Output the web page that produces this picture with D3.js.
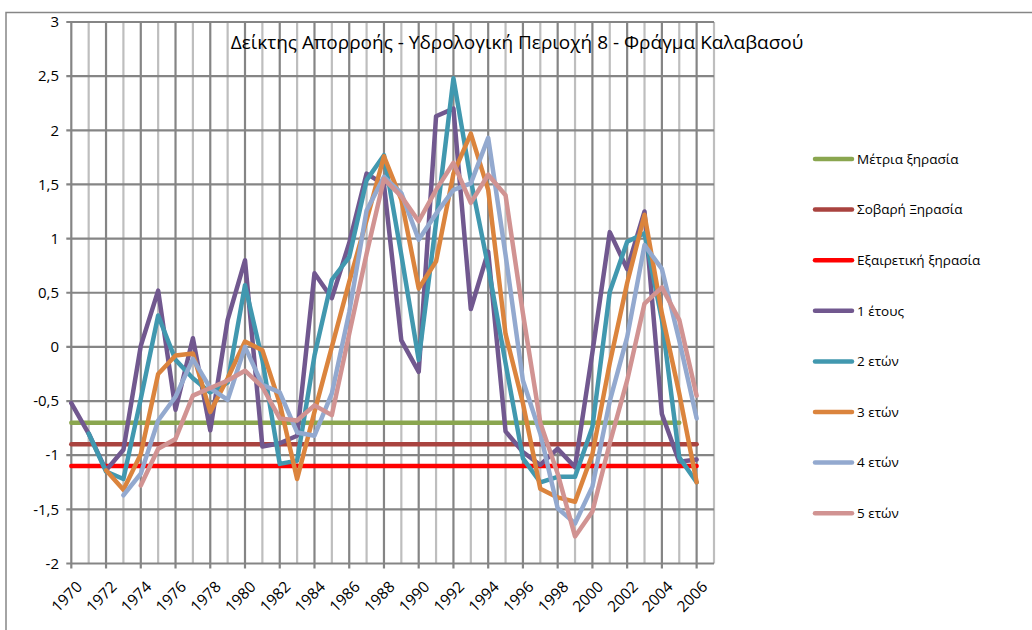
<!DOCTYPE html>
<html>
<head>
<meta charset="utf-8">
<script src="https://cdn.jsdelivr.net/npm/d3@7"></script>
<style>
	body { margin: 0; background: #fff; }
	#app { width: 1032px; height: 630px; }
	svg { display: block; font-family: 'Open Sans', sans-serif; }
</style>
</head>
<body>
<div id="app"></div>
<script>
// categories (the last one stays empty, like in the sheet)
const years = [1970, 1971, 1972, 1973, 1974, 1975, 1976, 1977, 1978, 1979,
	1980, 1981, 1982, 1983, 1984, 1985, 1986, 1987, 1988, 1989,
	1990, 1991, 1992, 1993, 1994, 1995, 1996, 1997, 1998, 1999,
	2000, 2001, 2002, 2003, 2004, 2005, 2006, 2007];
const labelYears = [1970, 1972, 1974, 1976, 1978, 1980, 1982, 1984, 1986, 1988,
	1990, 1992, 1994, 1996, 1998, 2000, 2002, 2004, 2006];
const yTicks = [3, 2.5, 2, 1.5, 1, 0.5, 0, -0.5, -1, -1.5, -2];

// drought thresholds
const droughtNames = ['Μέτρια ξηρασία', 'Σοβαρή Ξηρασία', 'Εξαιρετική ξηρασία'];
const droughtLevels = [-0.7, -0.9, -1.1];
const droughtLastYear = [2005, 2006, 2006];

// runoff index, 1970 -> 2006
const seriesNames = ['1 έτους', '2 ετών', '3 ετών', '4 ετών', '5 ετών'];
const index1 = [-0.52, -0.80, -1.14, -0.95, 0.01, 0.52, -0.58, 0.08, -0.77, 0.25,
	0.80, -0.92, -0.89, -0.82, 0.68, 0.45, 0.96, 1.60, 1.50, 0.06,
	-0.23, 2.13, 2.20, 0.35, 0.88, -0.78, -0.97, -1.09, -0.94, -1.11,
	-0.05, 1.06, 0.72, 1.25, -0.62, -1.06, -1.04];
const index2 = [null, -0.80, -1.15, -1.22, -0.48, 0.29, -0.12, -0.29, -0.42, -0.33,
	0.57, -0.12, -1.08, -1.05, -0.08, 0.62, 0.83, 1.54, 1.77, 0.85,
	-0.12, 1.15, 2.48, 1.54, 0.74, -0.15, -1.03, -1.25, -1.20, -1.20,
	-0.74, 0.51, 0.97, 1.05, 0.25, -1.02, -1.25];
const index3 = [null, null, -1.14, -1.32, -0.99, -0.25, -0.08, -0.06, -0.60, -0.29,
	0.05, -0.03, -0.52, -1.22, -0.60, 0.00, 0.60, 1.17, 1.76, 1.36,
	0.54, 0.79, 1.60, 1.97, 1.45, 0.12, -0.52, -1.31, -1.39, -1.43,
	-0.99, -0.15, 0.59, 1.22, 0.31, -0.43, -1.25];
const index4 = [null, null, null, -1.37, -1.17, -0.68, -0.46, -0.11, -0.38, -0.49,
	0.00, -0.35, -0.42, -0.79, -0.82, -0.43, 0.32, 1.26, 1.57, 1.42,
	0.99, 1.23, 1.45, 1.51, 1.93, 0.85, -0.31, -0.80, -1.49, -1.63,
	-1.29, -0.50, 0.09, 0.94, 0.72, 0.06, -0.66];
const index5 = [null, null, null, null, -1.28, -0.94, -0.85, -0.45, -0.38, -0.31,
	-0.22, -0.37, -0.66, -0.68, -0.54, -0.63, 0.12, 0.86, 1.55, 1.39,
	1.16, 1.45, 1.70, 1.33, 1.59, 1.40, 0.31, -0.70, -1.17, -1.75,
	-1.52, -0.89, -0.31, 0.40, 0.55, 0.25, -0.45];

const droughtColors = ['#8AA64F', '#A9433F', '#FF0000'];
const seriesColors = ['#71588F', '#4198AF', '#DB843D', '#93A9CF', '#D19392'];

function initGraph () {

	let app = d3.select('#app'),
		outerWidth = 1032,
		outerHeight = 630,
		plot = { left: 71.3, right: 714, top: 22, bottom: 563.5 };

	let svg = app.append('svg')
		.attr('width', outerWidth)
		.attr('height', outerHeight);

	let x = d3.scalePoint()
		.domain(years)
		.range([plot.left, plot.right]);

	let y = d3.scaleLinear()
		.domain([-2, 3])
		.range([plot.bottom, plot.top]);

	let fmt = d3.formatLocale({ decimal: ',', thousands: '.', grouping: [3], currency: ['', ''], minus: '-' }).format('');

	// chart frame
	svg.append('path')
		.attr('d', 'M6,640V12.5H1040')
		.attr('fill', 'none')
		.attr('stroke', '#868686')
		.attr('stroke-width', 1.5);

	// vertical grid
	svg.append('g')
		.selectAll('line')
		.data(years)
		.enter().append('line')
			.attr('x1', d => x(d))
			.attr('x2', d => x(d))
			.attr('y1', y(3))
			.attr('y2', d => d % 2 === 0 ? y(-2) + 5 : y(-2))
			.attr('stroke', d => d % 2 === 0 ? '#858585' : '#BEBEBE')
			.attr('stroke-width', 2.2);

	// horizontal grid
	svg.append('g')
		.selectAll('line')
		.data(yTicks)
		.enter().append('line')
			.attr('x1', plot.left - 5)
			.attr('x2', plot.right)
			.attr('y1', d => y(d))
			.attr('y2', d => y(d))
			.attr('stroke', '#858585')
			.attr('stroke-width', 2.2);

	// y labels
	svg.append('g')
		.selectAll('text')
		.data(yTicks)
		.enter().append('text')
			.attr('x', 59)
			.attr('y', d => y(d))
			.attr('dy', '0.35em')
			.attr('text-anchor', 'end')
			.attr('font-size', 15)
			.attr('fill', '#000')
			.text(d => fmt(d));

	// x labels
	svg.append('g')
		.selectAll('text')
		.data(labelYears)
		.enter().append('text')
			.attr('transform', d => `translate(${ x(d) + 8 }, 584) rotate(-45)`)
			.attr('dy', '0.35em')
			.attr('text-anchor', 'end')
			.attr('font-size', 15.5)
			.attr('fill', '#000')
			.text(d => d);

	let line = d3.line()
		.defined(d => d.v !== null)
		.x(d => x(d.year))
		.y(d => y(d.v));

	// drought levels
	svg.append('g')
		.selectAll('path')
		.data(droughtLevels.map((lvl, i) => years
			.filter(yr => yr <= droughtLastYear[i])
			.map(yr => ({ year: yr, v: lvl }))))
		.enter().append('path')
			.attr('d', line)
			.attr('fill', 'none')
			.attr('stroke', (d, i) => droughtColors[i])
			.attr('stroke-width', 4.5)
			.attr('stroke-linecap', 'round');

	// index series
	let series = [index1, index2, index3, index4, index5];
	svg.append('g')
		.selectAll('path')
		.data(series.map(vals => vals.map((v, i) => ({ year: years[i], v: v }))))
		.enter().append('path')
			.attr('d', line)
			.attr('fill', 'none')
			.attr('stroke', (d, i) => seriesColors[i])
			.attr('stroke-width', 4.5)
			.attr('stroke-linejoin', 'round')
			.attr('stroke-linecap', 'round');

	// title
	svg.append('text')
		.attr('x', 517)
		.attr('y', 49)
		.attr('text-anchor', 'middle')
		.attr('font-size', 19)
		.attr('fill', '#000')
		.text('Δείκτης Απορροής - Υδρολογική Περιοχή 8 - Φράγμα Καλαβασού');

	// legend
	let legendItems = droughtNames.map((n, i) => ({ name: n, color: droughtColors[i] }))
		.concat(seriesNames.map((n, i) => ({ name: n, color: seriesColors[i] })));

	let legend = svg.append('g')
		.selectAll('g')
		.data(legendItems)
		.enter().append('g')
			.attr('transform', (d, i) => `translate(0, ${ 159 + i * 50.6 })`);

	legend.append('line')
		.attr('x1', 815)
		.attr('x2', 852)
		.attr('stroke', d => d.color)
		.attr('stroke-width', 4.5)
		.attr('stroke-linecap', 'round');

	legend.append('text')
		.attr('x', 857)
		.attr('dy', '0.35em')
		.attr('font-size', 13.5)
		.attr('fill', '#000')
		.text(d => d.name);
}

initGraph();
</script>
</body>
</html>
